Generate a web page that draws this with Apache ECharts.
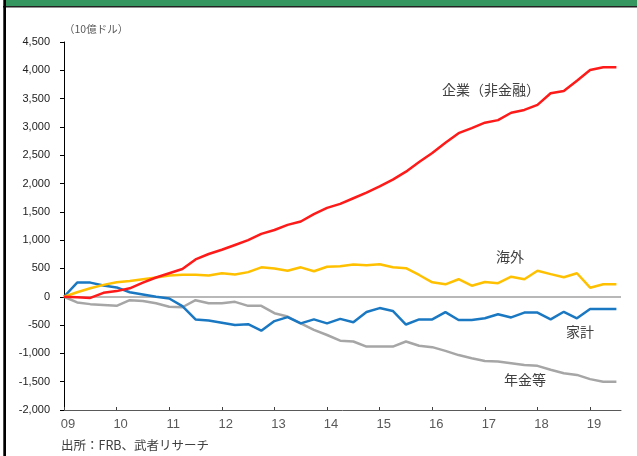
<!DOCTYPE html>
<html>
<head>
<meta charset="utf-8">
<script src="https://cdn.jsdelivr.net/npm/echarts@6.0.0/dist/echarts.min.js"></script>
<style>
  body { margin: 0; background: #fff; }
  #chart { width: 637px; height: 456px; }
</style>
</head>
<body>
<div id="chart"></div>
<script>
// 年ラベル（四半期データ、09年Q1起点）
const yearLabels = ['09', '10', '11', '12', '13', '14', '15', '16', '17', '18', '19']

// 企業（非金融）
const corporate = [0, -10, -20, 70, 100, 150, 250, 340, 415, 490, 660, 755, 830, 915, 1000, 1110,
  1180, 1270, 1330, 1460, 1570, 1640, 1740, 1840, 1950, 2070, 2210, 2380, 2540, 2720, 2890, 2980,
  3075, 3120, 3250, 3300, 3390, 3595, 3635, 3815, 4005, 4055, 4055]
// 海外
const foreign = [0, 80, 150, 210, 255, 280, 310, 340, 375, 390, 390, 375, 415, 395, 435, 520,
  500, 460, 520, 450, 530, 540, 570, 555, 575, 520, 505, 385, 255, 220, 310, 195,
  260, 240, 355, 310, 460, 400, 345, 415, 160, 220, 220]
// 家計
const household = [0, 250, 250, 200, 165, 80, 40, 0, -30, -165, -400, -420, -460, -500, -485, -600,
  -430, -360, -470, -400, -470, -390, -450, -270, -200, -250, -490, -400, -400, -270, -410, -410,
  -380, -310, -365, -280, -280, -400, -265, -380, -215, -215, -215]
// 年金等
const pension = [0, -100, -130, -145, -160, -60, -75, -115, -175, -185, -60, -115, -115, -90, -160, -160,
  -290, -350, -470, -585, -675, -775, -790, -880, -880, -880, -790, -865, -890, -955, -1030, -1085,
  -1135, -1145, -1175, -1205, -1220, -1290, -1350, -1380, -1455, -1500, -1500]

const seriesNames = ['年金等', '家計', '海外', '企業（非金融）']
const seriesColors = ['#a6a6a6', '#1a78c2', '#ffc000', '#ff1a1a']

const toPoints = arr => arr.map((v, i) => [i, v])
const yearTicks = yearLabels.map((_, i) => i * 4)

const jp = '"Noto Sans CJK JP", sans-serif'

const chartDom = document.getElementById('chart')
const myChart = echarts.init(chartDom)

const lineSeries = [pension, household, foreign, corporate].map((arr, k) => ({
  name: seriesNames[k],
  type: 'line',
  data: toPoints(arr),
  symbol: 'none',
  lineStyle: { color: seriesColors[k], width: 2.5 },
  z: 3 + k
}))
// ゼロ線
lineSeries[0].markLine = {
  silent: true,
  symbol: 'none',
  label: { show: false },
  lineStyle: { color: '#a0a0a0', width: 1.5, type: 'solid' },
  data: [{ yAxis: 0 }],
  z: 1
}

const option = {
  animation: false,
  grid: { left: 64, right: 16, top: 42, bottom: 46 },
  xAxis: {
    type: 'value',
    min: 0,
    max: 42.35,
    axisLine: { onZero: false, lineStyle: { color: '#595959', width: 1 } },
    axisTick: { show: true, inside: true, length: 3, customValues: yearTicks, lineStyle: { color: '#404040' } },
    axisLabel: {
      customValues: yearTicks,
      formatter: v => yearLabels[Math.round(v / 4)],
      color: '#595959',
      fontSize: 13,
      fontFamily: 'Liberation Sans',
      margin: 8,
      padding: [0, 0, 0, 8]
    },
    splitLine: { show: false }
  },
  yAxis: {
    type: 'value',
    min: -2000,
    max: 4500,
    interval: 500,
    axisLine: { show: true, lineStyle: { color: '#000', width: 1 } },
    axisTick: { show: true, length: 4, lineStyle: { color: '#000' } },
    axisLabel: {
      formatter: v => v.toLocaleString('en-US'),
      color: '#222',
      fontSize: 11,
      fontFamily: 'Liberation Sans',
      margin: 14
    },
    splitLine: { show: false }
  },
  graphic: [
    { type: 'rect', shape: { x: 6, y: 0, width: 631, height: 6 }, style: { fill: '#35965f' } },
    { type: 'rect', shape: { x: 3, y: 6, width: 634, height: 1.5 }, style: { fill: '#222' } },
    { type: 'rect', shape: { x: 3.3, y: 0, width: 2.7, height: 456 }, style: { fill: '#000' } },
    { type: 'text', left: 64, top: 24, style: { text: '（10億ドル）', fill: '#595959', font: '10.5px ' + jp } },
    { type: 'text', left: 61, top: 439, style: { text: '出所：FRB、武者リサーチ', fill: '#404040', font: '12.5px ' + jp } },
    { type: 'text', left: 442, top: 83, style: { text: '企業（非金融）', fill: '#404040', font: '14px ' + jp } },
    { type: 'text', left: 496, top: 250, style: { text: '海外', fill: '#404040', font: '14px ' + jp } },
    { type: 'text', left: 566, top: 325, style: { text: '家計', fill: '#404040', font: '14px ' + jp } },
    { type: 'text', left: 504, top: 373, style: { text: '年金等', fill: '#404040', font: '14px ' + jp } }
  ],
  series: lineSeries
}
option && myChart.setOption(option)
</script>
</body>
</html>
